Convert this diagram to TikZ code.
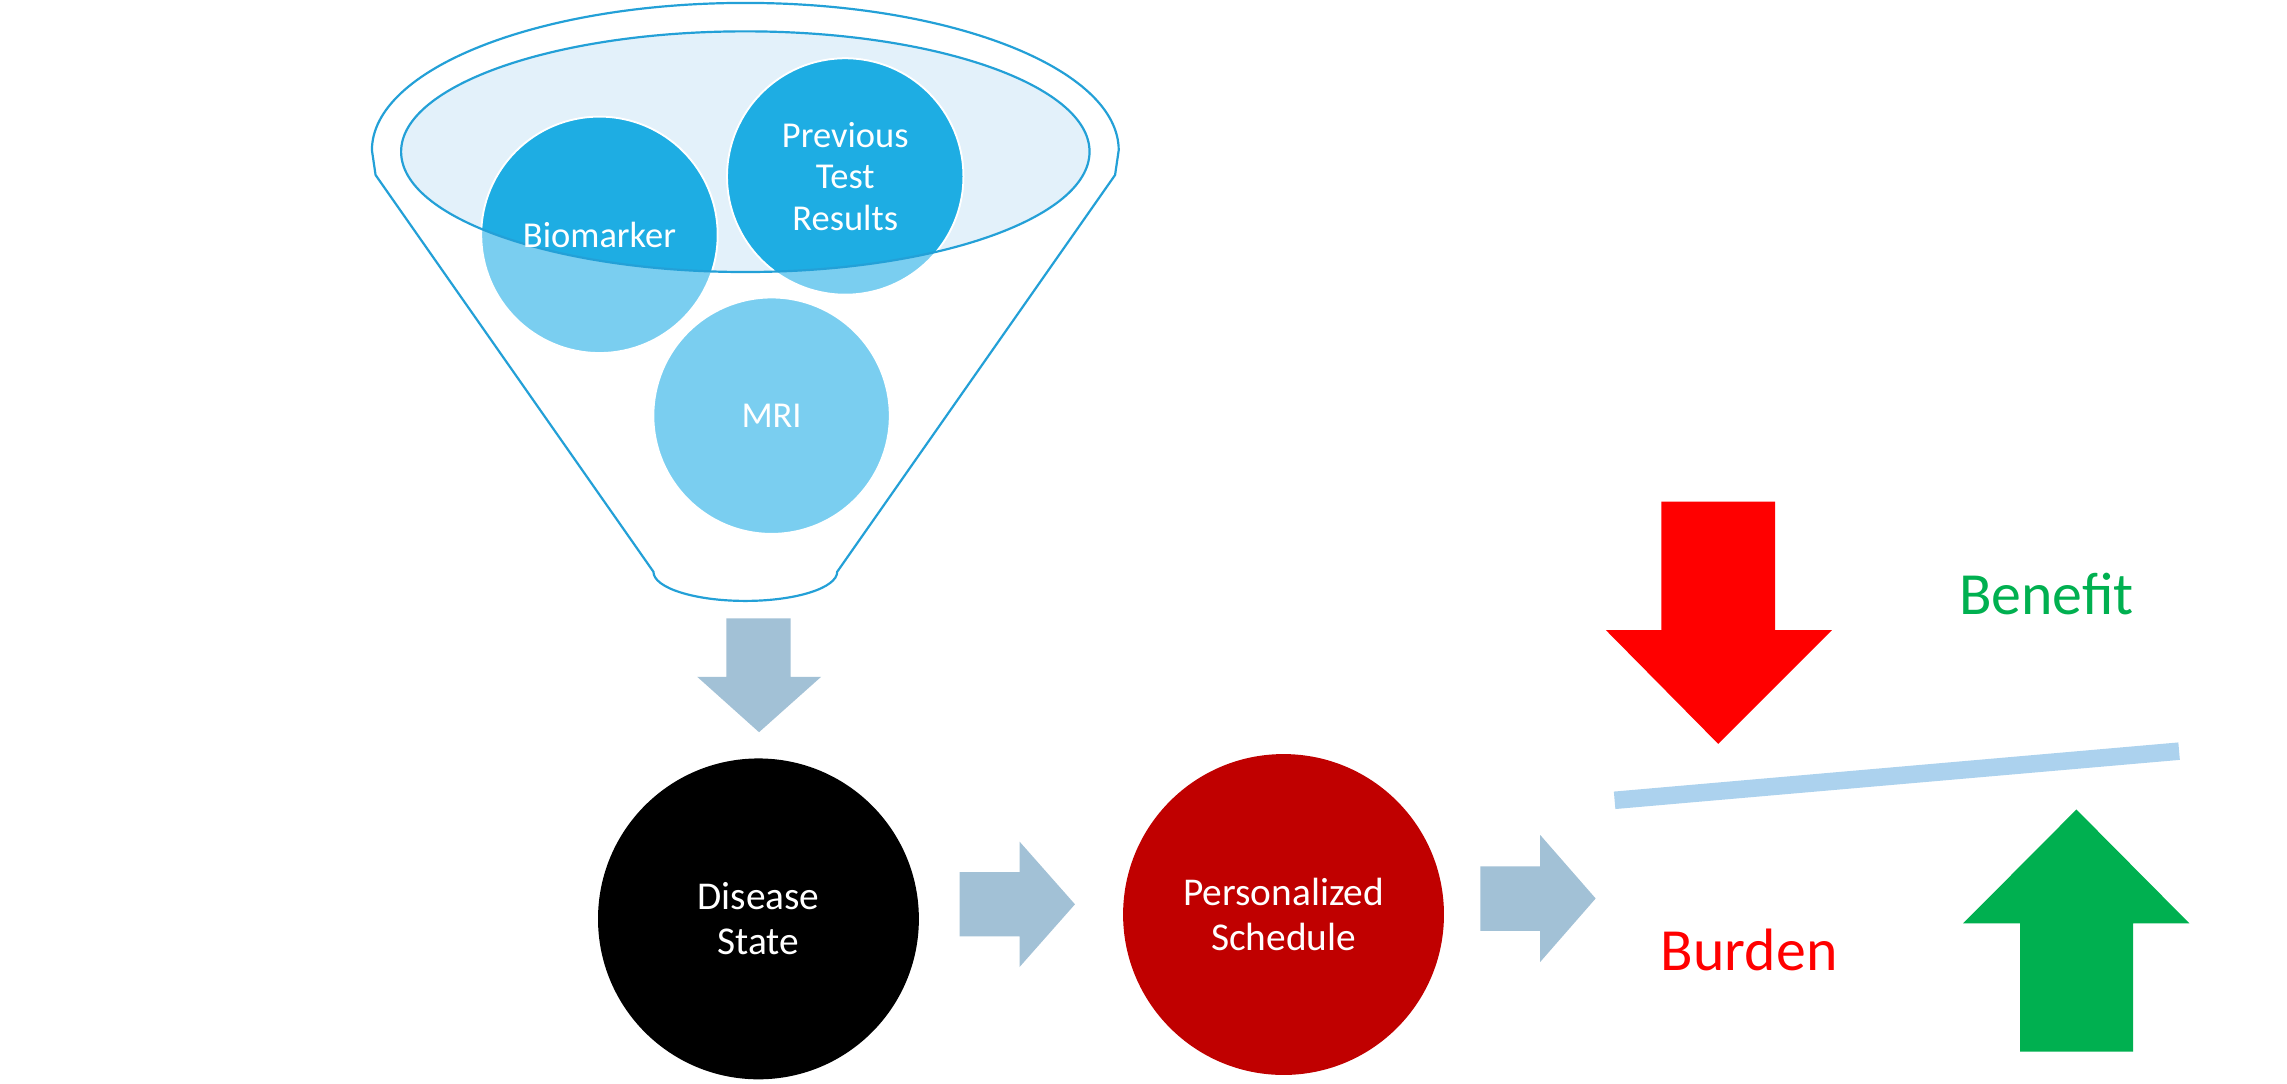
\documentclass[tikz,border=0pt]{standalone}
\usepackage{fontspec}
\setmainfont{Carlito}
\definecolor{funnelc}{RGB}{35,160,215}
\definecolor{palec}{RGB}{227,241,250}
\definecolor{darkb}{RGB}{30,173,227}
\definecolor{lightb}{RGB}{122,206,240}
\definecolor{arrowc}{RGB}{162,193,214}
\definecolor{beamc}{RGB}{172,210,238}
\definecolor{redc}{RGB}{255,0,0}
\definecolor{greenc}{RGB}{0,176,80}
\definecolor{darkred}{RGB}{192,0,0}
\begin{document}
\begin{tikzpicture}[x=0.5pt,y=-0.5pt,
  bubble/.style={circle,inner sep=0pt,minimum size=81pt,fill=lightb,draw=white,line width=0.6pt},
  bubbletext/.style={text=white,font=\fontsize{12.5}{14.25}\selectfont,align=center,inner sep=0pt},
  bigcircle/.style={circle,inner sep=0pt,minimum size=110pt,text=white,font=\fontsize{13.5}{15.5}\selectfont,align=center},
  blockarrow/.style={fill=arrowc},
  funnelline/.style={draw=funnelc,line width=0.75pt},
  bigword/.style={font=\fontsize{20.5}{24}\selectfont,anchor=base,inner sep=0pt}
]
\useasboundingbox (0,0) rectangle (1568,743);
\fill[white] (0,0) rectangle (1568,743);

% funnel outline
\draw[funnelline] (257.5,120) -- (255,103)
  arc[start angle=180,end angle=0,x radius=128pt,y radius=50.5pt]
  -- (764.5,120) -- (574,392)
  arc[start angle=0,end angle=-180,x radius=31.5pt,y radius=10pt]
  -- cycle;

% rim
\coordinate (rim) at (511,104);
\fill[palec] (rim) ellipse [x radius=118pt,y radius=41.25pt];

% bubbles
\node[bubble] (bio) at (411,161) {};
\node[bubble] (prev) at (579.5,121) {};
\node[bubble] (mri) at (529,285) {};

\begin{scope}
  \clip (rim) ellipse [x radius=118pt,y radius=41.25pt];
  \filldraw[fill=darkb,draw=white,line width=0.6pt] (bio) circle (40.5pt);
  \filldraw[fill=darkb,draw=white,line width=0.6pt] (prev) circle (40.5pt);
\end{scope}
\draw[funnelline] (rim) ellipse [x radius=118pt,y radius=41.25pt];

\node[bubbletext] at (bio) {Biomarker};
\node[bubbletext] at (prev) {Previous\\Test\\Results};
\node[bubbletext] at (mri) {MRI};

% down arrow
\fill[blockarrow] (498,424) -- (542,424) -- (542,464) -- (563,464) -- (520.4,502) -- (478,464) -- (498,464) -- cycle;

% main circles
\node[bigcircle,fill=black] (dis) at (520,630) {Disease\\State};
\node[bigcircle,fill=darkred] (sched) at (880,627) {Personalized\\Schedule};

% right arrows
\fill[blockarrow] (658,598) -- (699,598) -- (699,577) -- (737,620) -- (699,663) -- (699,642) -- (658,642) -- cycle;
\fill[blockarrow] (1015,594) -- (1056,594) -- (1056,572.5) -- (1094,616) -- (1056,659.5) -- (1056,638.3) -- (1015,638.3) -- cycle;

% balance beam
\coordinate (beamL) at (1107,548.7);
\coordinate (beamR) at (1494,515);
\draw[beamc,line width=6pt] (beamL) -- (beamR);

% red and green arrows
\fill[redc] (1139,344) -- (1217,344) -- (1217,432) -- (1256,432) -- (1178,510) -- (1101,432) -- (1139,432) -- cycle;
\fill[greenc] (1385,721) -- (1462.5,721) -- (1462.5,633) -- (1501,633) -- (1423.6,555) -- (1346,633) -- (1385,633) -- cycle;

\node[bigword,text=greenc] (benefit) at (1403,421.3) {Benefit};
\node[bigword,text=redc] (burden) at (1199.3,665.6) {Burden};
\end{tikzpicture}
\end{document}
